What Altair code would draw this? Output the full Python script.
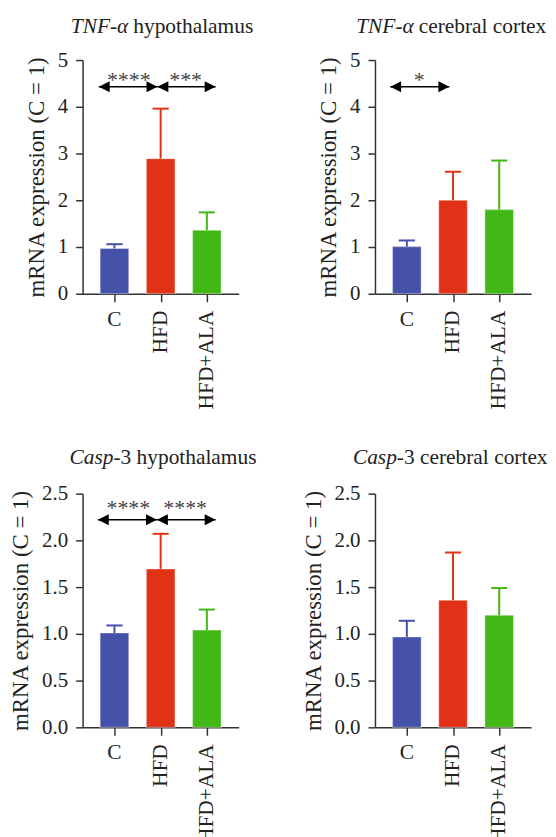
import altair as alt
import pandas as pd

FONT = "Liberation Serif"
INK = "#222222"

groups = ["C", "HFD", "HFD+ALA"]
group_idx = [0, 1, 2]
bar_colors = ["#4652a9", "#e13116", "#41b815"]

# mean and SD (upper error)
tnf_hyp_mean = [0.97, 2.89, 1.36]
tnf_hyp_err = [0.09, 1.07, 0.38]
tnf_ctx_mean = [1.01, 2.00, 1.80]
tnf_ctx_err = [0.13, 0.61, 1.05]
casp_hyp_mean = [1.01, 1.695, 1.04]
casp_hyp_err = [0.08, 0.375, 0.22]
casp_ctx_mean = [0.967, 1.36, 1.20]
casp_ctx_err = [0.173, 0.51, 0.29]

# significance brackets (in group-index units)
tnf_hyp_arrow_start = [-0.34, 0.93]
tnf_hyp_arrow_end = [0.93, 2.19]
tnf_hyp_stars = ["****", "***"]
tnf_hyp_star_x = [0.31, 1.54]

tnf_ctx_arrow_start = [-0.36]
tnf_ctx_arrow_end = [0.92]
tnf_ctx_stars = ["*"]
tnf_ctx_star_x = [0.27]

casp_hyp_arrow_start = [-0.36, 0.92]
casp_hyp_arrow_end = [0.92, 2.19]
casp_hyp_stars = ["****", "****"]
casp_hyp_star_x = [0.30, 1.53]

W, H = 157, 235
TITLE_FS = 21.5
YTITLE_FS = 23
TICK_FS = 21
XLAB_FS = 21.5

panels = [
    dict(gene="TNF-α", region="hypothalamus", gap=5, mean=tnf_hyp_mean, err=tnf_hyp_err,
         ymax=5, yticks=[0, 1, 2, 3, 4, 5], fmt="d",
         a0=tnf_hyp_arrow_start, a1=tnf_hyp_arrow_end, ay=4.43,
         stars=tnf_hyp_stars, sx=tnf_hyp_star_x, sy=4.42, split=46, ty=-33),
    dict(gene="TNF-α", region="cerebral cortex", gap=5, mean=tnf_ctx_mean, err=tnf_ctx_err,
         ymax=5, yticks=[0, 1, 2, 3, 4, 5], fmt="d",
         a0=tnf_ctx_arrow_start, a1=tnf_ctx_arrow_end, ay=4.43,
         stars=tnf_ctx_stars, sx=tnf_ctx_star_x, sy=4.42, split=39, ty=-33),
    dict(gene="Casp", region="-3 hypothalamus", gap=0, mean=casp_hyp_mean, err=casp_hyp_err,
         ymax=2.5, yticks=[0, 0.5, 1.0, 1.5, 2.0, 2.5], fmt=".1f",
         a0=casp_hyp_arrow_start, a1=casp_hyp_arrow_end, ay=2.22,
         stars=casp_hyp_stars, sx=casp_hyp_star_x, sy=2.27, split=31, ty=-35.5),
    dict(gene="Casp", region="-3 cerebral cortex", gap=0, mean=casp_ctx_mean, err=casp_ctx_err,
         ymax=2.5, yticks=[0, 0.5, 1.0, 1.5, 2.0, 2.5], fmt=".1f",
         a0=[], a1=[], ay=2.22, stars=[], sx=[], sy=2.27, split=22, ty=-35.5),
]

RIGHT_HEAD = "M0,0L-1,-0.5L-1,0.5Z"
LEFT_HEAD = "M0,0L1,-0.5L1,0.5Z"


def make_panel(p):
    df = pd.DataFrame({"group": groups, "idx": group_idx, "mean": p["mean"],
                       "err": p["err"], "color": bar_colors})
    xs = alt.Scale(domain=[-0.69, 2.69], nice=False, zero=False)
    ys = alt.Scale(domain=[0, p["ymax"]], nice=False, zero=True)
    xaxis = alt.Axis(values=group_idx, labels=False, title=None, grid=False, tickSize=8)
    yaxis = alt.Axis(values=p["yticks"], format=p["fmt"], title="mRNA expression (C = 1)",
                     grid=False, labelPadding=8, titlePadding=9)

    def X(f):
        return alt.X(f, type="quantitative", scale=xs, axis=xaxis)

    def Y(f):
        return alt.Y(f, type="quantitative", scale=ys, axis=yaxis)

    base = alt.Chart(df).transform_calculate(
        upper="datum.mean + datum.err",
        lo="datum.idx - 0.31", hi="datum.idx + 0.31",
        cl="datum.idx - 0.175", ch="datum.idx + 0.175",
    )
    col = alt.Color("color:N", scale=None, legend=None)

    bars = base.mark_rect(stroke="white", strokeOpacity=0.35, strokeWidth=1.2).encode(
        x=X("lo"), x2="hi", y=Y("mean"), y2=alt.datum(0), color=col)
    err = base.mark_rule(strokeWidth=2).encode(x=X("idx"), y=Y("mean"), y2="upper", color=col)
    cap = base.mark_rule(strokeWidth=2).encode(x=X("cl"), x2="ch", y=Y("upper"), color=col)

    lab_c = base.transform_filter("datum.idx == 0").mark_text(
        font=FONT, fontSize=XLAB_FS, color=INK, align="center", baseline="top").encode(
        x=X("idx"), y=alt.value(H + 15), text="group:N")
    lab_r = base.transform_filter("datum.idx > 0").mark_text(
        font=FONT, fontSize=XLAB_FS, color=INK, align="right", baseline="middle", angle=270).encode(
        x=X("idx"), y=alt.value(H + 17), text="group:N")

    tdf = pd.DataFrame({"gene": [p["gene"]], "region": [p["region"]]})
    t1 = alt.Chart(tdf).mark_text(font=FONT, fontSize=TITLE_FS, fontStyle="italic", color=INK,
                                  align="right", baseline="middle").encode(
        x=alt.value(p["split"]), y=alt.value(p["ty"]), text="gene:N")
    t2 = alt.Chart(tdf).mark_text(font=FONT, fontSize=TITLE_FS, color=INK, dx=p["gap"],
                                  align="left", baseline="middle").encode(
        x=alt.value(p["split"]), y=alt.value(p["ty"]), text="region:N")

    layers = [bars, err, cap, lab_c, lab_r, t1, t2]

    if p["a0"]:
        adf = pd.DataFrame({"a0": p["a0"], "a1": p["a1"], "ay": [p["ay"]] * len(p["a0"])})
        arr = alt.Chart(adf).mark_rule(strokeWidth=1.6, color="black").encode(
            x=X("a0"), x2="a1", y=Y("ay"))
        lh = alt.Chart(adf).mark_point(shape=LEFT_HEAD, filled=True, size=484, color="black",
                                       opacity=1).encode(x=X("a0"), y=Y("ay"))
        rh = alt.Chart(adf).mark_point(shape=RIGHT_HEAD, filled=True, size=484, color="black",
                                       opacity=1).encode(x=X("a1"), y=Y("ay"))
        sdf = pd.DataFrame({"s": p["stars"], "sx": p["sx"], "sy": [p["sy"]] * len(p["sx"])})
        st = alt.Chart(sdf).mark_text(font=FONT, fontSize=22, color="#444444",
                                      baseline="alphabetic", align="center").encode(
            x=X("sx"), y=Y("sy"), text="s:N")
        layers += [arr, lh, rh, st]

    return alt.layer(*layers).properties(width=W, height=H)


charts = [make_panel(p) for p in panels]

chart = alt.concat(*charts, columns=2, spacing={"row": 37, "column": 45}).properties(
    padding={"left": 1, "top": 6, "right": 0, "bottom": 0}
).configure_view(stroke=None).configure_axis(
    labelFont=FONT, labelFontSize=TICK_FS, labelColor=INK,
    titleFont=FONT, titleFontSize=YTITLE_FS, titleFontWeight="normal", titleColor=INK,
    domainColor="#333333", tickColor="#333333", domainWidth=1.5, tickWidth=1.5, tickSize=7,
)

chart.save("out.html", embed_options={"renderer": "svg", "actions": False})
